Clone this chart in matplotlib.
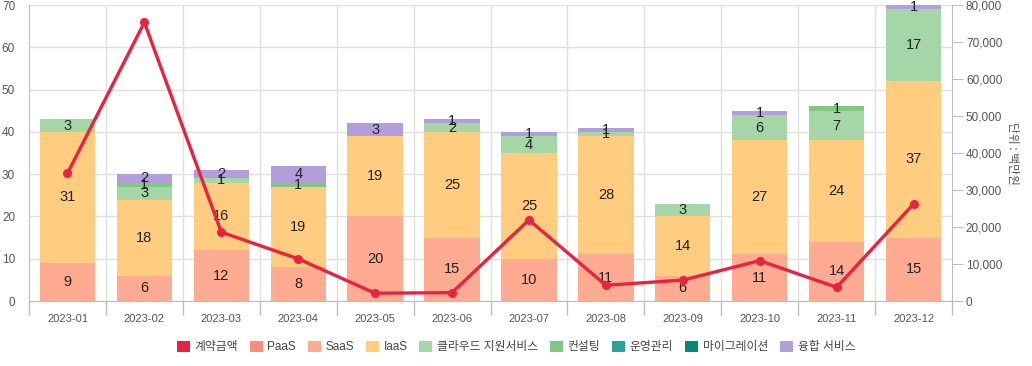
import matplotlib
matplotlib.use("Agg")
import matplotlib.pyplot as plt
from matplotlib.patches import Patch
import numpy as np

plt.rcParams['font.family'] = ['Liberation Sans', 'Noto Sans CJK KR', 'DejaVu Sans']

months = ["2023-01", "2023-02", "2023-03", "2023-04", "2023-05", "2023-06",
          "2023-07", "2023-08", "2023-09", "2023-10", "2023-11", "2023-12"]

paas = [0, 0, 0, 0, 0, 0, 0, 0, 0, 0, 0, 0]
saas = [9, 6, 12, 8, 20, 15, 10, 11, 6, 11, 14, 15]
iaas = [31, 18, 16, 19, 19, 25, 25, 28, 14, 27, 24, 37]
cloud_support = [3, 3, 1, 0, 0, 2, 4, 1, 3, 6, 7, 17]
consulting = [0, 1, 0, 1, 0, 0, 0, 0, 0, 0, 1, 0]
operation = [0, 0, 0, 0, 0, 0, 0, 0, 0, 0, 0, 0]
migration = [0, 0, 0, 0, 0, 0, 0, 0, 0, 0, 0, 0]
fusion = [0, 2, 2, 4, 3, 1, 1, 1, 0, 1, 0, 1]

contract_amount = [34500, 75300, 18600, 11400, 2100, 2250, 21900, 4250, 5650, 10900, 3700, 26200]

series_names = ["PaaS", "SaaS", "IaaS", "클라우드 지원서비스", "컨설팅", "운영관리", "마이그레이션", "융합 서비스"]
series_values = [paas, saas, iaas, cloud_support, consulting, operation, migration, fusion]
series_colors = ["#FF8A80", "#FFAB91", "#FFCC80", "#A5D6A7", "#81C784", "#26A69A", "#00897B", "#B39DDB"]
line_name = "계약금액"
line_color = "#E8233F"

fig = plt.figure(figsize=(10.32, 3.66), dpi=100)
ax = fig.add_axes([29/1032, 1 - 301/366, (952 - 29)/1032, (301 - 5)/366])
x = np.arange(len(months))
bottom = np.zeros(len(months))
grid_c = "#E0E0E0"
axis_c = "#BDBDBD"

for name, vals, col in zip(series_names, series_values, series_colors):
    vals = np.array(vals, dtype=float)
    ax.bar(x, vals, 0.72, bottom=bottom, color=col, zorder=2, linewidth=0)
    for xi, v, b in zip(x, vals, bottom):
        if v > 0:
            ax.text(xi, b + v / 2, f"{int(v)}", ha="center", va="center",
                    fontsize=10.5, color="#222222", zorder=3)
    bottom += vals

ax.set_xlim(-0.5, len(months) - 0.5)
ax.set_ylim(0, 70)
ax.set_yticks(range(0, 71, 10))
ax.set_xticks(x)
ax.set_xticklabels(months)
ax.set_xticks(np.arange(-0.5, len(months), 1), minor=True)
ax.tick_params(axis="x", which="major", length=0, pad=9, labelsize=8, labelcolor="#555555")
ax.tick_params(axis="x", which="minor", length=10, color=axis_c, width=1)
ax.tick_params(axis="y", length=0, pad=10, labelsize=8.5, labelcolor="#555555")
ax.grid(axis="y", color=grid_c, linewidth=1, zorder=0)
for b in np.arange(0.5, len(months) - 0.5, 1):
    ax.axvline(b, color=grid_c, linewidth=1, zorder=0)
ax.spines["top"].set_visible(False)
ax.spines["left"].set_color(axis_c)
ax.spines["bottom"].set_color(axis_c)
ax.spines["right"].set_visible(False)

ax2 = ax.twinx()
ax2.plot(x, contract_amount, color=line_color, linewidth=2.4, marker="o", markersize=5.5, zorder=5)
ax2.set_ylim(0, 80000)
ax2.set_yticks(range(0, 80001, 10000))
ax2.set_yticklabels([f"{v:,}" for v in range(0, 80001, 10000)])
ax2.tick_params(axis="y", length=8, color=axis_c, pad=2, labelsize=8.5, labelcolor="#555555")
for s in ["top", "left", "bottom"]:
    ax2.spines[s].set_visible(False)
ax2.spines["right"].set_color(axis_c)
ax2.set_ylabel("단위 : 백만원", rotation=270, labelpad=12, fontsize=8.5, color="#555555",
               family=["Noto Sans CJK KR", "DejaVu Sans"])

handles = [Patch(facecolor=line_color, edgecolor="none")] + \
          [Patch(facecolor=c, edgecolor="none") for c in series_colors]
labels = [line_name] + series_names
fig.legend(handles, labels, loc="center", bbox_to_anchor=(0.5, 1 - 347/366), ncol=9,
           frameon=False, handlelength=1.1, handleheight=1.1,
           handletextpad=0.4, columnspacing=1.0,
           prop={"family": ["Liberation Sans", "Noto Sans CJK KR", "DejaVu Sans"], "size": 8.5})
for t in fig.legends[0].get_texts():
    t.set_color("#444444")

fig.savefig("out.png", dpi=100)
